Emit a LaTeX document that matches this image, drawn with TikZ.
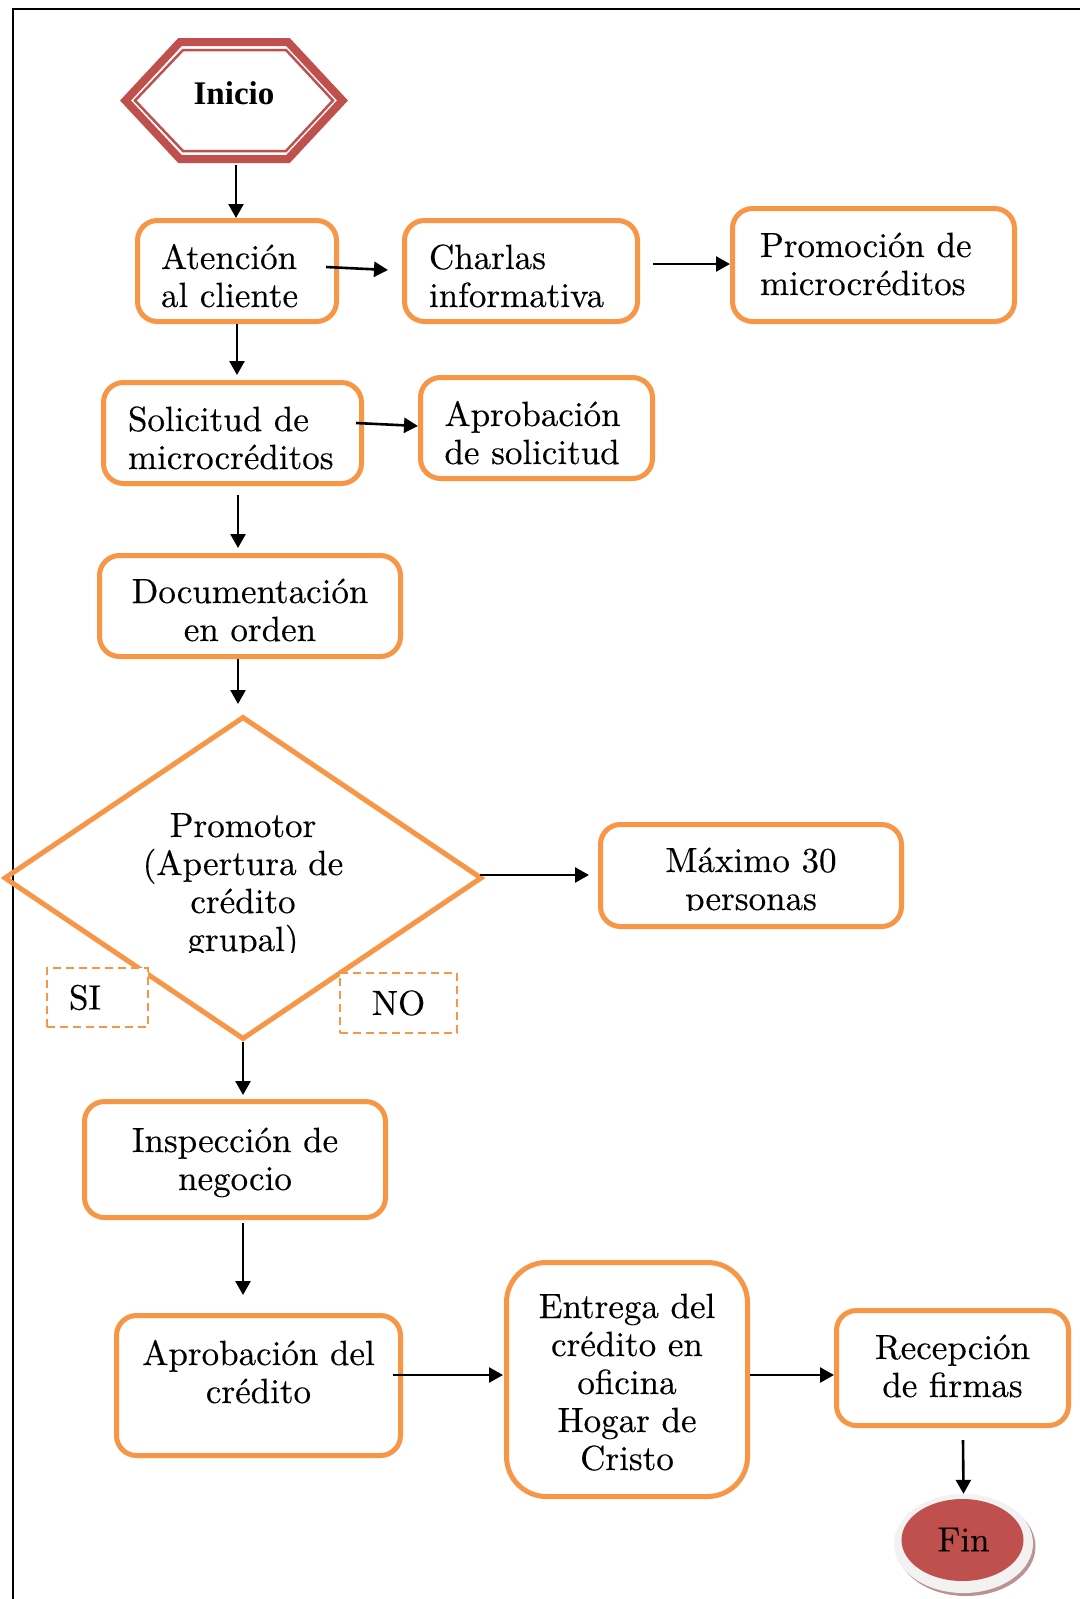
\documentclass[tikz,border=0pt]{standalone}
\usepackage{fontspec}
\setmainfont{lmroman10-regular.otf}[FakeBold=0.35]
\newfontfamily\timesbold{Liberation Serif}
\usetikzlibrary{arrows.meta,shapes.geometric,calc}
\definecolor{boxorange}{HTML}{F79646}
\definecolor{hexred}{HTML}{C0504D}
\definecolor{ringgray}{HTML}{F2F2F2}
\definecolor{shadowrose}{RGB}{188,146,146}
\begin{document}
\begin{tikzpicture}[x=1pt,y=-1pt,
  every node/.style={font=\fontsize{35}{38}\selectfont},
  procbox/.style={draw=boxorange, line width=5pt, rounded corners=20pt, fill=white, inner sep=0pt, text depth=0pt},
  leftbox/.style={procbox, align=left, text height=0pt, execute at begin node={\hyphenpenalty=10000}},
  arr/.style={line width=2.6pt, -{Triangle[length=14pt,width=15pt]}},
  tagbox/.style={draw=boxorange, line width=1.8pt, dash pattern=on 8pt off 5pt, fill=white, inner sep=0pt}
]
\useasboundingbox (0,0) rectangle (1080,1599);
\fill[white] (0,0) rectangle (1080,1599);
\draw[line width=2.5pt] (13,1599) -- (13,9) -- (1080,9);

% Inicio
\draw[hexred, line width=8pt, line join=miter] (125.5,100.5) -- (180,42) -- (288,42) -- (342.5,100.5) -- (288,159) -- (180,159) -- cycle;
\draw[hexred, line width=2.5pt, line join=miter] (135,100.5) -- (183,50) -- (286,50) -- (333,100.5) -- (286,151) -- (183,151) -- cycle;
\node[minimum width=228pt, minimum height=125pt, inner sep=0pt, font=\timesbold\bfseries\fontsize{33}{38}\selectfont] (ini) at (234,93) {Inicio};

% boxes
\node[leftbox, minimum width=199pt, minimum height=101pt, text width=152pt, text depth=4pt] (aten) at (237,271) {Atención\\al cliente};
\node[leftbox, minimum width=233pt, minimum height=101pt, text width=184pt, text depth=4pt] (char) at (521,271) {Charlas\\informativa};
\node[leftbox, minimum width=282pt, minimum height=113pt, text width=227pt, text depth=16pt] (prom) at (873.5,265) {Promoción de\\microcréditos};
\node[leftbox, minimum width=258pt, minimum height=101pt, text width=209pt, text depth=4pt] (sol) at (232.5,433) {Solicitud de\\microcréditos};
\node[leftbox, minimum width=232pt, minimum height=101pt, text width=184pt, text depth=4pt] (aps) at (536.5,428) {Aprobación\\de solicitud};
\node[procbox, minimum width=301pt, minimum height=101pt, align=center, text height=70pt] (doc) at (250,606) {Documentación\\en orden};

% decision
\node[diamond, draw=boxorange, line width=5pt, minimum width=478pt, minimum height=323pt, inner sep=0pt] (dec) at (243,878) {};
\begin{scope}
\clip (100,780) rectangle (400,952);
\node[anchor=base, align=center, inner sep=0pt] (dect) at (243,951) {Promotor\\(Apertura de\\crédito\\grupal)};
\end{scope}
\node[tagbox, minimum width=101pt, minimum height=59pt, text width=57pt, align=left] (si) at (97.5,997.5) {SI};
\node[tagbox, minimum width=117pt, minimum height=60pt, align=center] (no) at (398.5,1003) {NO};

\node[procbox, minimum width=301pt, minimum height=102pt] (max) at (751,875.5) {};
\begin{scope}
\clip (600,830) rectangle (900,910);
\node[anchor=base, align=center, inner sep=0pt] (maxt) at (751,910) {Máximo 30\\personas};
\end{scope}

\node[procbox, minimum width=301pt, minimum height=116pt, align=center, text height=61pt] (insp) at (235,1159.5) {Inspección de\\negocio};
\node[procbox, minimum width=284pt, minimum height=140pt, align=center, text height=35pt] (apc) at (258.5,1385.5) {Aprobación del\\crédito};
\node[procbox, rounded corners=40pt, minimum width=241pt, minimum height=234pt, align=center, text height=181pt] (ent) at (627,1379.5) {Entrega del\\crédito en\\oficina\\Hogar de\\Cristo};
\node[procbox, minimum width=232pt, minimum height=115pt, align=center, text height=58pt] (rec) at (952.5,1368) {Recepción\\de firmas};

% Fin
\fill[shadowrose] (966,1546.5) ellipse [x radius=69.5, y radius=49.5];
\node[ellipse, fill=ringgray, minimum width=139pt, minimum height=99pt, inner sep=0pt,
  path picture={\fill[hexred] ($(path picture bounding box.center)+(-1,-3.5)$) ellipse [x radius=61, y radius=41];}] (fin) at (963.5,1543.5) {\raisebox{8pt}{Fin}};

% connectors
\draw[arr] ($(ini.south)+(2,9.5)$) -- ($(aten.north)+(-1,0)$);
\draw[arr] ($(aten.east)+(-13,-4)$) -- ($(char.west)+(-14,-1)$);
\draw[arr] ($(char.east)+(13,-7)$) -- ($(prom.west)+(0,-1)$);
\draw[arr] (aten.south) -- ([yshift=5pt]aten.south |- sol.north);
\draw[arr] ($(sol.east)+(-8,-10)$) -- ($(aps.west)+(0,-2)$);
\draw[arr] ($(sol.south)+(5.5,9)$) -- ($(doc.north)+(-12,-5)$);
\draw[arr] ($(doc.south)+(-12,0)$) -- ($(dec.north)+(-5,-10)$);
\draw[arr] ($(dec.east)+(-5,-3)$) -- ($(max.west)+(-9,-0.5)$);
\draw[arr] (dec.south) -- ($(insp.north)+(8,-4)$);
\draw[arr] ($(insp.south)+(8,3)$) -- ($(apc.north)+(-15.5,-18)$);
\draw[arr] ($(apc.east)+(-10,-10.5)$) -- ($(ent.west)+(-1,-4.5)$);
\draw[arr] ($(ent.east)+(0,-4.5)$) -- ($(rec.west)+(0,7)$);
\draw[arr] ($(rec.south)+(10.5,12)$) -- (fin.north);
\end{tikzpicture}
\end{document}
